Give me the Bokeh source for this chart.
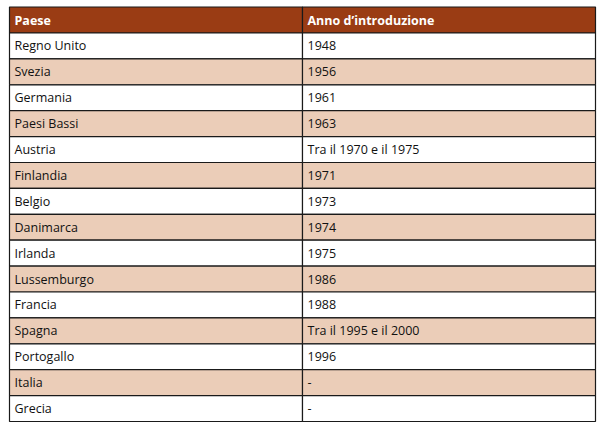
from bokeh.plotting import figure
from bokeh.models import ColumnDataSource, Range1d
from bokeh.core.properties import value
from bokeh.embed import file_html
from bokeh.resources import INLINE

header = ["Paese", "Anno d\u2019introduzione"]
countries = ["Regno Unito", "Svezia", "Germania", "Paesi Bassi", "Austria", "Finlandia",
             "Belgio", "Danimarca", "Irlanda", "Lussemburgo", "Francia", "Spagna",
             "Portogallo", "Italia", "Grecia"]
years = ["1948", "1956", "1961", "1963", "Tra il 1970 e il 1975", "1971", "1973", "1974",
         "1975", "1986", "1988", "Tra il 1995 e il 2000", "1996", "-", "-"]

W, H = 600, 424
X0, XM, X1 = 9, 302, 595
Y0, HH = 6.5, 26
RH = (421 - Y0 - HH) / len(countries)

HEAD_COLOR = "#9a3c14"
ALT_COLOR = "#ebcdb8"

p = figure(width=W, height=H, output_backend="svg", toolbar_location=None,
           x_range=Range1d(0, W), y_range=Range1d(H, 0), min_border=0)
p.axis.visible = False
p.grid.visible = False
p.outline_line_color = None
p.background_fill_color = "white"

n = len(countries)
tops = [Y0 + HH + i * RH for i in range(n)]
bottoms = [t + RH for t in tops]
fills = ["white" if i % 2 == 0 else ALT_COLOR for i in range(n)]

# header
p.quad(left=[X0, XM], right=[XM, X1], top=[Y0, Y0], bottom=[Y0 + HH, Y0 + HH],
       fill_color=HEAD_COLOR, line_color="#1a1a1a", line_width=1.2)

rows = ColumnDataSource(dict(
    l1=[X0] * n, r1=[XM] * n, l2=[XM] * n, r2=[X1] * n,
    top=tops, bottom=bottoms, fill=fills,
    ymid=[t + RH / 2 for t in tops],
    x1=[X0 + 5] * n, x2=[XM + 5] * n,
    country=countries, year=years))

p.quad(left="l1", right="r1", top="top", bottom="bottom", fill_color="fill",
       line_color="#1a1a1a", line_width=1.2, source=rows)
p.quad(left="l2", right="r2", top="top", bottom="bottom", fill_color="fill",
       line_color="#1a1a1a", line_width=1.2, source=rows)

font = value("Open Sans")
p.text(x=[X0 + 5, XM + 5], y=[Y0 + HH / 2 + 0.5] * 2, text=header, text_color="white",
       text_font=font, text_font_style="bold", text_font_size="12.5px",
       text_baseline="middle", text_align="left")
p.text(x="x1", y="ymid", text="country", source=rows, text_color="#111111",
       text_font=font, text_font_size="12.5px", text_baseline="middle", text_align="left")
p.text(x="x2", y="ymid", text="year", source=rows, text_color="#111111",
       text_font=font, text_font_size="12.5px", text_baseline="middle", text_align="left")

open("out.html", "w").write(file_html(p, INLINE))
